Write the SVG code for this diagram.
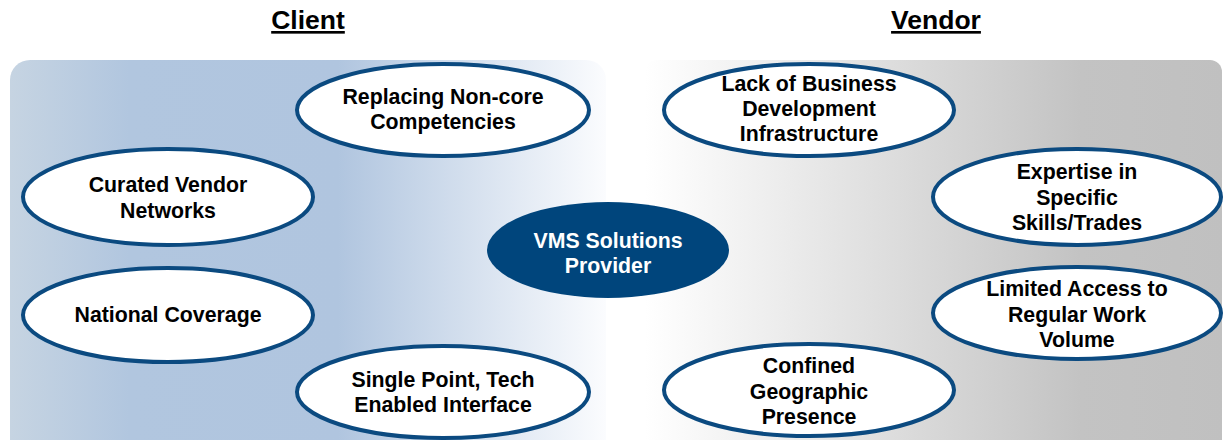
<svg xmlns="http://www.w3.org/2000/svg" width="1225" height="440" viewBox="0 0 1225 440">
<defs>
<linearGradient id="gl" x1="10" y1="0" x2="606" y2="0" gradientUnits="userSpaceOnUse">
<stop offset="0" stop-color="#c6d4e2"/>
<stop offset="0.2" stop-color="#b1c6df"/>
<stop offset="0.55" stop-color="#b0c5df"/>
<stop offset="1" stop-color="#fbfcfe"/>
</linearGradient>
<linearGradient id="gr" x1="645" y1="0" x2="1225" y2="0" gradientUnits="userSpaceOnUse">
<stop offset="0" stop-color="#ffffff"/>
<stop offset="0.75" stop-color="#c3c3c3"/>
<stop offset="1" stop-color="#c0c0c0"/>
</linearGradient>
<style>
.n ellipse{fill:#fff;stroke:#0b4a80;stroke-width:4}
.n text{font-family:"Liberation Sans",Arial,sans-serif;font-weight:bold;font-size:21.3px;fill:#000;text-anchor:middle}
.h{font-family:"Liberation Sans",Arial,sans-serif;font-weight:bold;font-size:26.5px;fill:#000;text-anchor:middle;text-decoration:underline}
</style>
</defs>
<rect width="1225" height="440" fill="#fff"/>
<rect x="10" y="60" width="596" height="400" rx="20" fill="url(#gl)"/>
<rect x="645" y="60" width="577" height="400" rx="12" fill="url(#gr)"/>
<text class="h" x="308" y="29">Client</text>
<text class="h" x="936" y="29">Vendor</text>
<g id="connectors"></g>
<g id="n1" class="n"><ellipse cx="443" cy="110" rx="146" ry="46"/><text x="443" y="104">Replacing Non-core</text><text x="443" y="129">Competencies</text></g>
<g id="n2" class="n"><ellipse cx="168" cy="197" rx="145" ry="48"/><text x="168" y="192">Curated Vendor</text><text x="168" y="218">Networks</text></g>
<g id="n3" class="n"><ellipse cx="168" cy="315" rx="145" ry="47"/><text x="168" y="322">National Coverage</text></g>
<g id="n4" class="n"><ellipse cx="443" cy="392" rx="146" ry="46"/><text x="443" y="387">Single Point, Tech</text><text x="443" y="412">Enabled Interface</text></g>
<g id="n5"><ellipse cx="608" cy="250" rx="121" ry="48" fill="#00457c"/><text x="608" y="248" font-family="Liberation Sans,Arial,sans-serif" font-weight="bold" font-size="21.3" fill="#fff" text-anchor="middle">VMS Solutions</text><text x="608" y="273" font-family="Liberation Sans,Arial,sans-serif" font-weight="bold" font-size="21.3" fill="#fff" text-anchor="middle">Provider</text></g>
<g id="n6" class="n"><ellipse cx="809" cy="110" rx="145" ry="46"/><text x="809" y="91">Lack of Business</text><text x="809" y="116">Development</text><text x="809" y="141">Infrastructure</text></g>
<g id="n7" class="n"><ellipse cx="1077" cy="197" rx="144" ry="48"/><text x="1077" y="179">Expertise in</text><text x="1077" y="205">Specific</text><text x="1077" y="230">Skills/Trades</text></g>
<g id="n8" class="n"><ellipse cx="1077" cy="313" rx="144" ry="46"/><text x="1077" y="296">Limited Access to</text><text x="1077" y="322">Regular Work</text><text x="1077" y="347">Volume</text></g>
<g id="n9" class="n"><ellipse cx="809" cy="390" rx="145" ry="46"/><text x="809" y="373">Confined</text><text x="809" y="399">Geographic</text><text x="809" y="424">Presence</text></g>
</svg>
